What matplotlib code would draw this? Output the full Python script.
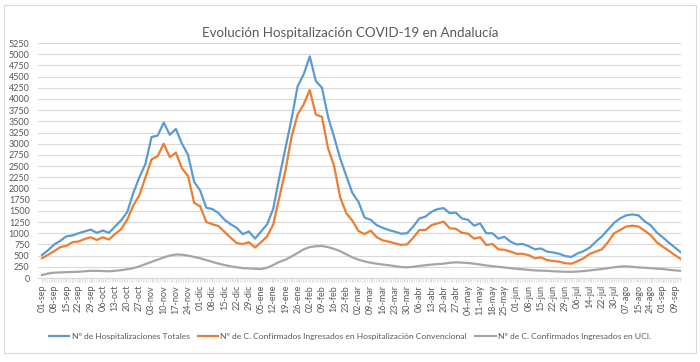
import numpy as np
import matplotlib.pyplot as plt
from matplotlib.patches import Rectangle

# valores leidos cada media semana (3.5 dias) desde 01-sep
totales = [514, 620, 750, 830, 930, 950, 1000, 1040, 1080, 1010,
           1060, 1010, 1150, 1290, 1470, 1900, 2250, 2550, 3150, 3180,
           3470, 3200, 3330, 3000, 2750, 2150, 1950, 1570, 1540, 1450,
           1300, 1200, 1120, 980, 1040, 880, 1040, 1200, 1550, 2250,
           2900, 3550, 4280, 4550, 4950, 4400, 4250, 3600, 3150, 2670,
           2280, 1900, 1700, 1350, 1300, 1180, 1120, 1070, 1035, 990,
           1000, 1150, 1330, 1370, 1480, 1540, 1560, 1450, 1460, 1330,
           1300, 1170, 1220, 1000, 1000, 880, 920, 811, 750, 760,
           710, 640, 660, 590, 570, 540, 490, 470, 550, 600,
           680, 811, 930, 1080, 1230, 1333, 1400, 1420, 1400, 1270,
           1180, 1020, 910, 790, 680, 570]

convencional = [440, 520, 600, 690, 720, 800, 815, 870, 910, 850,
                910, 860, 980, 1090, 1300, 1620, 1850, 2250, 2650, 2720,
                3000, 2700, 2800, 2450, 2280, 1680, 1600, 1250, 1200, 1160,
                1030, 900, 780, 760, 800, 680, 800, 930, 1200, 1800,
                2400, 3150, 3650, 3880, 4200, 3650, 3600, 2900, 2500, 1800,
                1450, 1280, 1050, 980, 1060, 910, 840, 811, 774, 740,
                750, 900, 1072, 1072, 1180, 1220, 1260, 1110, 1100, 1010,
                990, 880, 910, 737, 760, 640, 630, 590, 540, 540,
                510, 440, 460, 400, 380, 365, 330, 320, 375, 440,
                540, 590, 640, 800, 1000, 1072, 1150, 1170, 1150, 1060,
                960, 800, 700, 610, 510, 420]

uci = [67, 100, 120, 125, 130, 135, 140, 150, 160, 160,
       155, 150, 160, 175, 195, 220, 260, 310, 360, 410,
       460, 500, 525, 520, 500, 470, 440, 400, 360, 320,
       290, 260, 240, 220, 215, 205, 200, 230, 290, 360,
       410, 480, 560, 640, 690, 710, 715, 690, 650, 600,
       530, 460, 410, 370, 340, 320, 300, 285, 265, 245,
       240, 250, 270, 285, 300, 310, 320, 340, 350, 345,
       335, 320, 300, 280, 265, 250, 235, 220, 205, 195,
       180, 170, 165, 160, 150, 145, 140, 138, 145, 155,
       170, 185, 200, 220, 240, 255, 260, 250, 235, 230,
       220, 210, 200, 185, 170, 160]

etiquetas = ['01-sep', '08-sep', '15-sep', '22-sep', '29-sep', '06-oct', '13-oct',
             '20-oct', '27-oct', '03-nov', '10-nov', '17-nov', '24-nov', '01-dic',
             '08-dic', '15-dic', '22-dic', '29-dic', '05-ene', '12-ene', '19-ene',
             '26-ene', '02-feb', '09-feb', '16-feb', '23-feb', '02-mar', '09-mar',
             '16-mar', '23-mar', '30-mar', '06-abr', '13-abr', '20-abr', '27-abr',
             '04-may', '11-may', '18-may', '25-may', '01-jun', '08-jun', '15-jun',
             '22-jun', '29-jun', '06-jul', '14-jul', '22-jul', '30-jul', '07-ago',
             '15-ago', '24-ago', '01-sep', '09-sep']

nombres = ['Nº de Hospitalizaciones Totales',
           'Nº de C. Confirmados Ingresados en Hospitalización Convencional',
           'Nº de C. Confirmados Ingresados en UCI.']
colores = ['#5B9BD5', '#ED7D31', '#A5A5A5']

plt.rcParams['font.family'] = ['Lato', 'DejaVu Sans']
gris = '#595959'

fig = plt.figure(figsize=(7, 3.62), dpi=100)
fig.patches.append(Rectangle((4 / 700, 1 - 353 / 362), 692 / 700, 348 / 362,
                             transform=fig.transFigure, fill=False,
                             edgecolor='#D9D9D9', linewidth=0.8))
ax = fig.add_axes([38 / 700, 1 - 278 / 362, 643 / 700, 235 / 362])

x = np.arange(len(totales)) * 3.5
for serie, nombre, color in zip([totales, convencional, uci], nombres, colores):
    ax.plot(x, serie, color=color, lw=1.6, label=nombre, solid_joinstyle='round')

ax.set_ylim(0, 5250)
ax.set_xlim(-2.3, 367.5)
ax.set_yticks(np.arange(0, 5251, 250))
ax.set_xticks(np.arange(len(etiquetas)) * 7)
ax.set_xticklabels(etiquetas, rotation=90)
ax.set_xticks(np.arange(0, 368, 1), minor=True)
ax.yaxis.grid(True, color='#D9D9D9', lw=0.8)
ax.set_axisbelow(True)
for s in ['top', 'right', 'left']:
    ax.spines[s].set_visible(False)
ax.spines['bottom'].set_color('#D9D9D9')
ax.tick_params(axis='y', length=0, labelsize=6.5, labelcolor=gris, pad=6)
ax.tick_params(axis='x', which='major', length=3, color='#D9D9D9', labelsize=6.5,
               labelcolor=gris, pad=2)
ax.tick_params(axis='x', which='minor', length=3, color='#D9D9D9', width=0.5)

fig.text(0.5, 1 - 33 / 362, 'Evolución Hospitalización COVID-19 en Andalucía',
         ha='center', va='center', fontsize=9.6, color=gris)
fig.legend(loc='center', bbox_to_anchor=(0.5, 1 - 336 / 362), ncol=3, frameon=False,
           fontsize=6.1, handlelength=2.4, handletextpad=0.25, columnspacing=1.0,
           labelcolor=gris)

fig.savefig('out.png', dpi=100)
